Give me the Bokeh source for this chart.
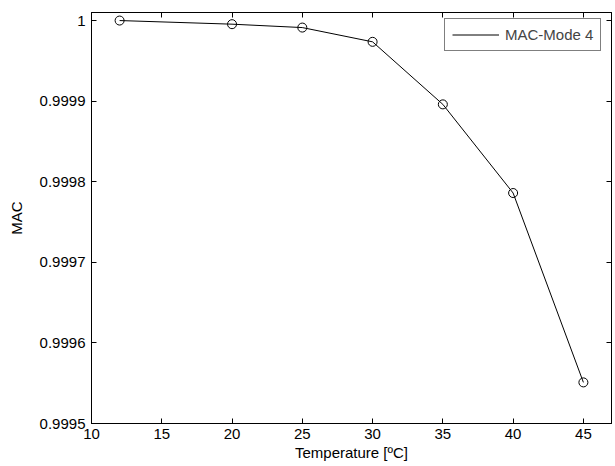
from bokeh.plotting import figure
from bokeh.models import (FixedTicker, CustomJSTickFormatter, LinearAxis, Range1d, Legend, LegendItem)
from bokeh.embed import file_html
from bokeh.resources import INLINE

temperature = [12, 20, 25, 30, 35, 40, 45]
mac_mode4 = [1.0, 0.9999955, 0.9999913, 0.9999736, 0.999896, 0.999786, 0.999551]
x_ticks = [10, 15, 20, 25, 30, 35, 40, 45]
y_ticks = [0.9995, 0.9996, 0.9997, 0.9998, 0.9999, 1.0]

FONT = "Liberation Sans"
FS = "15px"

p = figure(width=615, height=466, output_backend="svg", toolbar_location=None,
           x_range=Range1d(10, 47), y_range=Range1d(0.9995, 1.00001),
           min_border_left=91, min_border_right=4, min_border_top=12, min_border_bottom=43)
p.background_fill_color = "white"
p.border_fill_color = "white"
p.outline_line_color = "black"
p.outline_line_width = 1
p.grid.visible = False

fmt = CustomJSTickFormatter(code="return String(Number(tick.toPrecision(6)));")

def style(ax, labels=True):
    ax.axis_line_color = "black"
    ax.major_tick_in = 5
    ax.major_tick_out = 0
    ax.minor_tick_in = 0
    ax.minor_tick_out = 0
    ax.major_tick_line_color = "black"
    ax.major_label_text_font = FONT
    ax.major_label_text_font_size = FS
    ax.major_label_text_color = "black"
    ax.axis_label_text_font = FONT
    ax.axis_label_text_font_size = FS
    ax.axis_label_text_font_style = "normal"
    ax.axis_label_text_color = "black"
    if not labels:
        ax.major_label_text_font_size = "0px"
        ax.major_label_text_alpha = 0

p.xaxis.ticker = FixedTicker(ticks=x_ticks)
p.yaxis.ticker = FixedTicker(ticks=y_ticks)
p.yaxis.formatter = fmt
p.xaxis.formatter = fmt
p.xaxis.axis_label = "Temperature [ºC]"
p.yaxis.axis_label = "MAC"
style(p.xaxis[0])
style(p.yaxis[0])
p.xaxis.major_label_standoff = 5
p.xaxis.axis_label_standoff = 2
p.yaxis.major_label_standoff = 6
p.yaxis.axis_label_standoff = 12

top = LinearAxis(ticker=FixedTicker(ticks=x_ticks), major_label_text_alpha=0)
style(top, labels=False)
top.major_label_standoff = 0
p.add_layout(top, "above")
right = LinearAxis(ticker=FixedTicker(ticks=y_ticks), major_label_text_alpha=0)
style(right, labels=False)
right.major_label_standoff = 0
p.add_layout(right, "right")

ln = p.line(temperature, mac_mode4, line_color="black", line_width=1)
p.scatter(temperature, mac_mode4, marker="circle", size=9, fill_color=None,
          line_color="black", line_width=1)

legend = Legend(items=[LegendItem(label="MAC-Mode 4", renderers=[ln])],
                location=(353, 372))
legend.border_line_color = "black"
legend.border_line_width = 1
legend.margin = 0
legend.padding = 7
legend.glyph_width = 47
legend.glyph_height = 15
legend.label_text_font = FONT
legend.label_text_font_size = FS
legend.label_standoff = 6
legend.spacing = 0
legend.background_fill_alpha = 1
p.add_layout(legend, "center")

open("out.html", "w").write(file_html(p, INLINE))
